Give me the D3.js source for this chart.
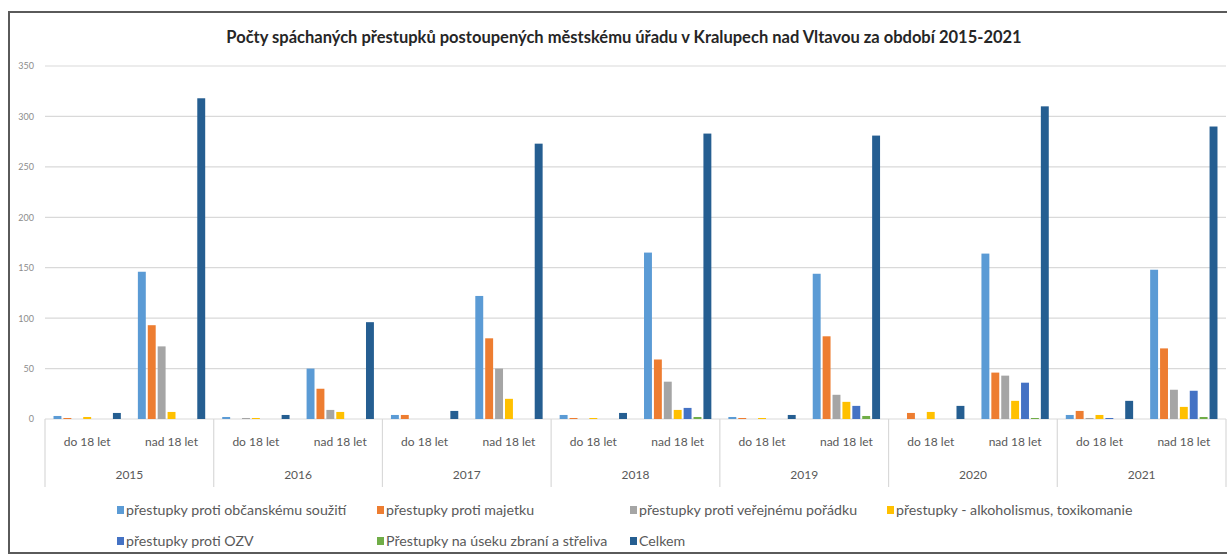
<!DOCTYPE html>
<html>
<head>
<meta charset="utf-8">
<script src="https://cdn.jsdelivr.net/npm/d3@7"></script>
<style>
    body { margin: 0; background: #fff; }
    svg text { font-family: Lato, "Open Sans", sans-serif; }
</style>
</head>
<body>
<svg id="chart"></svg>
<script>
// chart data
var years = ["2015", "2016", "2017", "2018", "2019", "2020", "2021"];
var ageGroups = ["do 18 let", "nad 18 let"];
var seriesNames = [
    "přestupky proti občanskému soužití",
    "přestupky proti majetku",
    "přestupky proti veřejnému pořádku",
    "přestupky - alkoholismus, toxikomanie",
    "přestupky proti OZV",
    "Přestupky na úseku zbraní a střeliva",
    "Celkem"
];
var seriesColors = ["#5b9bd5", "#ed7d31", "#a5a5a5", "#ffc000", "#4472c4", "#70ad47", "#255e91"];

// values per year, [do 18 let, nad 18 let]
var obcanskeSouziti = [[3, 146], [2, 50], [4, 122], [4, 165], [2, 144], [0, 164], [4, 148]];
var majetek         = [[1, 93],  [0, 30], [4, 80],  [1, 59],  [1, 82],  [6, 46],  [8, 70]];
var verejnyPoradek  = [[0, 72],  [1, 9],  [0, 50],  [0, 37],  [0, 24],  [0, 43],  [1, 29]];
var alkoholismus    = [[2, 7],   [1, 7],  [0, 20],  [1, 9],   [1, 17],  [7, 18],  [4, 12]];
var ozv             = [[0, 0],   [0, 0],  [0, 0],   [0, 11],  [0, 13],  [0, 36],  [1, 28]];
var zbrane          = [[0, 0],   [0, 0],  [0, 0],   [0, 2],   [0, 3],   [0, 1],   [0, 2]];
var celkem          = [[6, 318], [4, 96], [8, 273], [6, 283], [4, 281], [13, 310], [18, 290]];

var seriesValues = [obcanskeSouziti, majetek, verejnyPoradek, alkoholismus, ozv, zbrane, celkem];
var yTicks = [0, 50, 100, 150, 200, 250, 300, 350];

var W = 1227, H = 555;
var svg = d3.select("#chart").attr("width", W).attr("height", H);

var margin = { top: 66, right: 1, bottom: 136, left: 45 };
var width = W - margin.left - margin.right;
var height = H - margin.top - margin.bottom;

// frame
svg.append("rect")
    .attr("x", 9).attr("y", 12)
    .attr("width", W + 10).attr("height", 541)
    .attr("fill", "none")
    .attr("stroke", "#5a5a5a")
    .attr("stroke-width", 2);

// title
svg.append("text")
    .attr("x", 624).attr("y", 43)
    .attr("text-anchor", "middle")
    .attr("font-size", "16.5px")
    .attr("font-weight", "bold")
    .attr("fill", "#262626")
    .text("Počty spáchaných přestupků postoupených městskému úřadu v Kralupech nad Vltavou za období 2015-2021");

var g = svg.append("g").attr("transform", "translate(" + margin.left + "," + margin.top + ")");

// scales
var x0 = d3.scaleBand().domain(years).range([0, width]);
var x1 = d3.scaleBand().domain(ageGroups).range([0, x0.bandwidth()]);
var x2 = d3.scaleBand().domain(d3.range(seriesNames.length))
    .range([0, x1.bandwidth()])
    .paddingInner(0.2)
    .paddingOuter(0.86);
var y = d3.scaleLinear().domain([0, 350]).range([height, 0]);

// grid lines
g.append("g")
    .selectAll("line")
    .data(yTicks)
    .enter()
    .append("line")
    .attr("x1", 0).attr("x2", width)
    .attr("y1", function (d) { return y(d); })
    .attr("y2", function (d) { return y(d); })
    .attr("stroke", "#d9d9d9")
    .attr("stroke-width", 1.2);

// y labels
var axisLeft = d3.axisLeft(y).tickValues(yTicks).tickSize(0).tickPadding(11);
var yAxis = g.append("g").call(axisLeft);
yAxis.select(".domain").remove();
yAxis.selectAll("text")
    .attr("fill", "#8c8c8c")
    .attr("font-size", "9px")
    .style("font-family", "Lato, sans-serif");

// bars
var cells = [];
years.forEach(function (yr, yi) {
    ageGroups.forEach(function (ag, ai) {
        seriesValues.forEach(function (s, si) {
            cells.push({ year: yr, age: ag, series: si, value: s[yi][ai] });
        });
    });
});

g.append("g")
    .selectAll("rect")
    .data(cells)
    .enter()
    .append("rect")
    .attr("x", function (d) { return x0(d.year) + x1(d.age) + x2(d.series); })
    .attr("y", function (d) { return y(d.value); })
    .attr("width", x2.bandwidth())
    .attr("height", function (d) { return height - y(d.value); })
    .attr("fill", function (d) { return seriesColors[d.series]; });

// category axis: separators and labels
var sepX = years.map(function (d) { return x0(d); }).concat([width]);
g.append("g")
    .selectAll("line")
    .data(sepX)
    .enter()
    .append("line")
    .attr("x1", function (d) { return d; })
    .attr("x2", function (d) { return d; })
    .attr("y1", height).attr("y2", height + 68)
    .attr("stroke", "#d9d9d9")
    .attr("stroke-width", 1.2);

var subLabels = [];
years.forEach(function (yr) {
    ageGroups.forEach(function (ag) { subLabels.push({ year: yr, age: ag }); });
});
g.append("g")
    .selectAll("text")
    .data(subLabels)
    .enter()
    .append("text")
    .attr("x", function (d) { return x0(d.year) + x1(d.age) + x1.bandwidth() / 2; })
    .attr("y", height + 27)
    .attr("text-anchor", "middle")
    .attr("font-size", "12px")
    .attr("fill", "#595959")
    .text(function (d) { return d.age; });

g.append("g")
    .selectAll("text")
    .data(years)
    .enter()
    .append("text")
    .attr("x", function (d) { return x0(d) + x0.bandwidth() / 2; })
    .attr("y", height + 60)
    .attr("text-anchor", "middle")
    .attr("font-size", "12px")
    .attr("fill", "#595959")
    .text(function (d) { return d; });

// legend
var legendX = [117, 377, 630, 887];
var legendY = [510, 541];
var legend = svg.append("g")
    .selectAll("g")
    .data(seriesNames)
    .enter()
    .append("g")
    .attr("transform", function (d, i) {
        return "translate(" + legendX[i % 4] + "," + legendY[Math.floor(i / 4)] + ")";
    });
legend.append("rect")
    .attr("x", 0).attr("y", -4)
    .attr("width", 7).attr("height", 8)
    .attr("fill", function (d, i) { return seriesColors[i]; });
legend.append("text")
    .attr("x", 9).attr("y", 4.5)
    .attr("font-size", "14.2px")
    .attr("fill", "#595959")
    .text(function (d) { return d; });
</script>
</body>
</html>
